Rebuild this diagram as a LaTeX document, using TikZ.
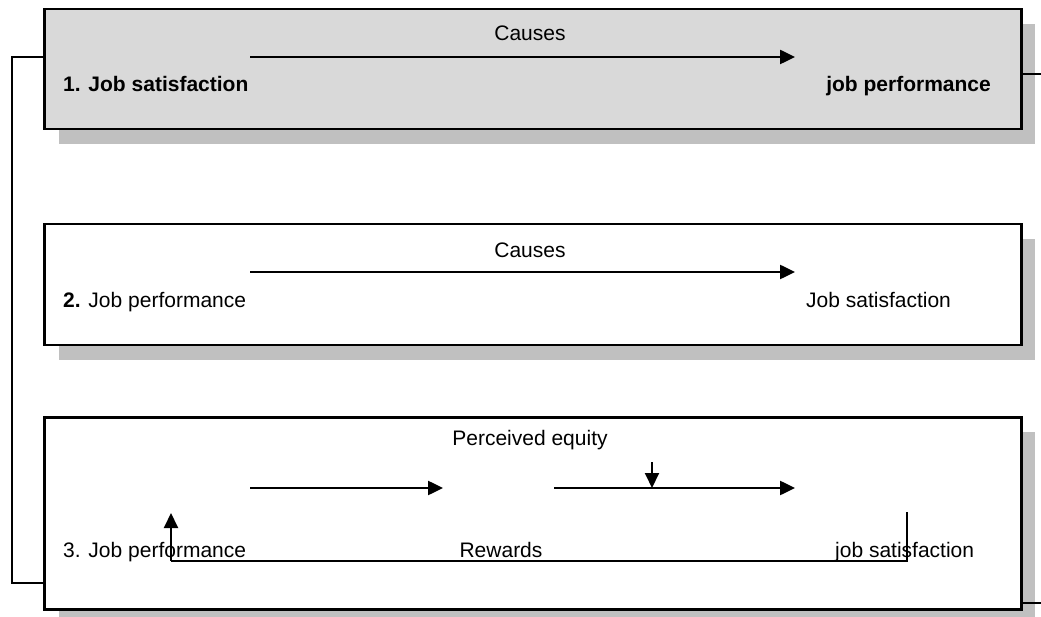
\documentclass[tikz,border=0pt]{standalone}
\usepackage{fontspec}
\setmainfont{Liberation Sans}
\usetikzlibrary{arrows.meta}
\definecolor{boxgray}{HTML}{D9D9D9}
\definecolor{shadowgray}{HTML}{C0C0C0}
\tikzset{
  panel/.style={draw=black, line width=2.5pt, rectangle, anchor=north west,
    minimum width=977pt, inner sep=0pt},
  shadebox/.style={fill=shadowgray, draw=none},
  lbl/.style={inner sep=0pt, font=\fontsize{21}{25}\selectfont},
  arr/.style={line width=2.5pt, -{Triangle[length=15pt,width=14pt]}},
  wire/.style={line width=1.6pt},
  wirearr/.style={line width=2pt, -{Triangle[length=15pt,width=14pt]}},
}
\begin{document}
\begin{tikzpicture}[x=1pt,y=-1pt]
\useasboundingbox (0,0) rectangle (1041,617);
% shadows
\fill[shadebox] (59,24) rectangle (1035,144);
\fill[shadebox] (59,239) rectangle (1035,360);
\fill[shadebox] (59,432) rectangle (1035,617);
% panels
\node[panel, fill=boxgray, minimum height=120pt] (b1) at (43,8) {};
\node[panel, fill=white, minimum height=121pt] (b2) at (43,223) {};
\node[panel, fill=white, minimum height=192pt] (b3) at (43,416) {};
% outer connectors
\coordinate (l1) at (43,57);
\coordinate (l2) at (12,57);
\coordinate (l3) at (12,583);
\coordinate (l4) at (43,583);
\draw[wire] (l1) -- (l2) -- (l3) -- (l4);
\coordinate (r1a) at (1020,74);
\coordinate (r1b) at (1041,74);
\draw[wire] (r1a) -- (r1b);
\coordinate (r3a) at (1020,603);
\coordinate (r3b) at (1041,603);
\draw[wire] (r3a) -- (r3b);
% panel 1
\node[lbl, anchor=center] (c1) at (530,33) {Causes};
\node[lbl, anchor=base west] (t1a) at (63,92) {\bfseries 1. Job satisfaction};
\node[lbl, anchor=base east] (t1b) at (991,92) {\bfseries job performance};
\coordinate (a1s) at (250,57);
\coordinate (a1e) at (795,57);
\draw[arr] (a1s) -- (a1e);
% panel 2
\node[lbl, anchor=center] (c2) at (530,250) {Causes};
\node[lbl, anchor=base west] (t2a) at (63,308) {\textbf{2.} Job performance};
\node[lbl, anchor=base west] (t2b) at (806,308) {Job satisfaction};
\coordinate (a2s) at (250,272);
\coordinate (a2e) at (795,272);
\draw[arr] (a2s) -- (a2e);
% panel 3
\node[lbl, anchor=center] (pe) at (530,440) {Perceived equity};
\node[lbl, anchor=base west] (t3a) at (63,557) {3. Job performance};
\node[lbl, anchor=base] (rw) at (501,557) {Rewards};
\node[lbl, anchor=base west] (t3b) at (835,557) {job satisfaction};
\coordinate (a3s) at (250,488);
\coordinate (a3e) at (443,488);
\draw[arr] (a3s) -- (a3e);
\coordinate (a4s) at (554,488);
\coordinate (a4e) at (795,488);
\draw[arr] (a4s) -- (a4e);
\coordinate (d1) at (652,462);
\coordinate (d2) at (652,488);
\draw[wirearr] (d1) -- (d2);
\coordinate (f1) at (907,512);
\coordinate (f2) at (907,561);
\coordinate (f3) at (171,561);
\coordinate (f4) at (171,513);
\draw[wire] (f1) -- (f2) -- (f3);
\draw[wirearr] (f3) -- (f4);
\end{tikzpicture}
\end{document}
